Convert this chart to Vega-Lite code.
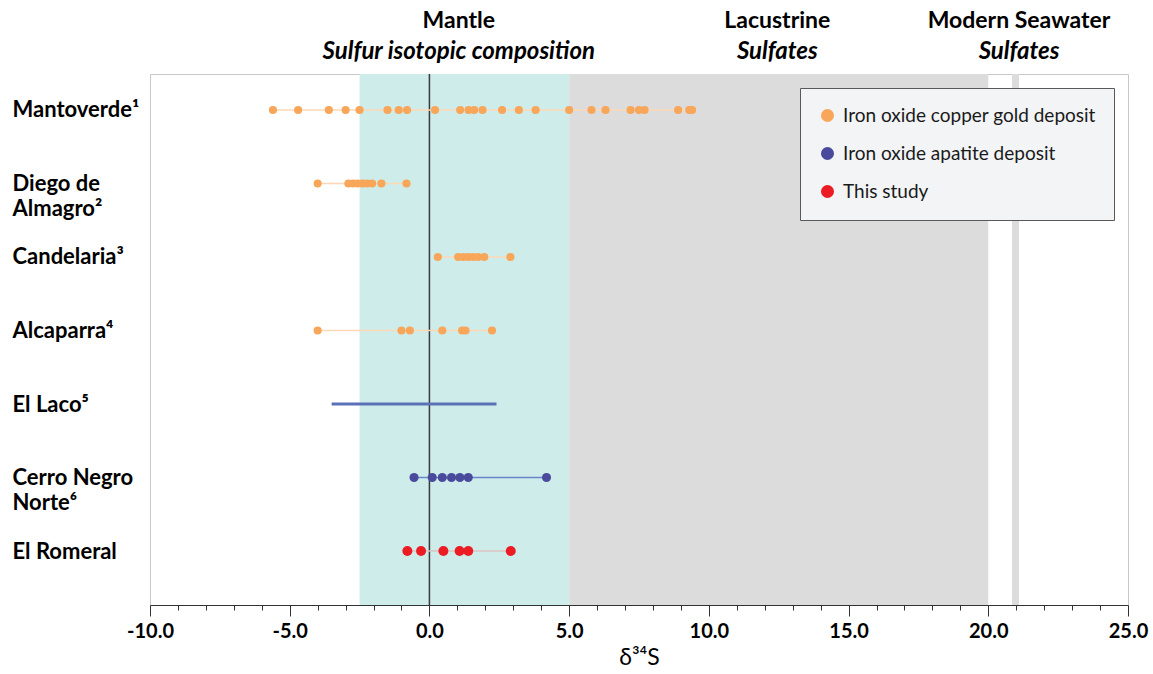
{
  "$schema": "https://vega.github.io/schema/vega-lite/v6.json",
  "padding": {"left": 11, "top": 5, "right": 5, "bottom": 0},
  "background": "white",
  "spacing": 5,
  "config": {"font": "Lato", "view": {"stroke": null}},
  "resolve": {"legend": {"color": "independent"}},
  "datasets": {
    "samples": [
      {"deposit": "Mantoverde¹", "group": "Iron oxide copper gold deposit", "kind": "point", "d34S": -5.6},
      {"deposit": "Mantoverde¹", "group": "Iron oxide copper gold deposit", "kind": "point", "d34S": -4.7},
      {"deposit": "Mantoverde¹", "group": "Iron oxide copper gold deposit", "kind": "point", "d34S": -3.6},
      {"deposit": "Mantoverde¹", "group": "Iron oxide copper gold deposit", "kind": "point", "d34S": -3.0},
      {"deposit": "Mantoverde¹", "group": "Iron oxide copper gold deposit", "kind": "point", "d34S": -2.5},
      {"deposit": "Mantoverde¹", "group": "Iron oxide copper gold deposit", "kind": "point", "d34S": -1.5},
      {"deposit": "Mantoverde¹", "group": "Iron oxide copper gold deposit", "kind": "point", "d34S": -1.1},
      {"deposit": "Mantoverde¹", "group": "Iron oxide copper gold deposit", "kind": "point", "d34S": -0.8},
      {"deposit": "Mantoverde¹", "group": "Iron oxide copper gold deposit", "kind": "point", "d34S": 0.2},
      {"deposit": "Mantoverde¹", "group": "Iron oxide copper gold deposit", "kind": "point", "d34S": 1.1},
      {"deposit": "Mantoverde¹", "group": "Iron oxide copper gold deposit", "kind": "point", "d34S": 1.4},
      {"deposit": "Mantoverde¹", "group": "Iron oxide copper gold deposit", "kind": "point", "d34S": 1.6},
      {"deposit": "Mantoverde¹", "group": "Iron oxide copper gold deposit", "kind": "point", "d34S": 1.9},
      {"deposit": "Mantoverde¹", "group": "Iron oxide copper gold deposit", "kind": "point", "d34S": 2.6},
      {"deposit": "Mantoverde¹", "group": "Iron oxide copper gold deposit", "kind": "point", "d34S": 3.2},
      {"deposit": "Mantoverde¹", "group": "Iron oxide copper gold deposit", "kind": "point", "d34S": 3.8},
      {"deposit": "Mantoverde¹", "group": "Iron oxide copper gold deposit", "kind": "point", "d34S": 5.0},
      {"deposit": "Mantoverde¹", "group": "Iron oxide copper gold deposit", "kind": "point", "d34S": 5.8},
      {"deposit": "Mantoverde¹", "group": "Iron oxide copper gold deposit", "kind": "point", "d34S": 6.3},
      {"deposit": "Mantoverde¹", "group": "Iron oxide copper gold deposit", "kind": "point", "d34S": 7.2},
      {"deposit": "Mantoverde¹", "group": "Iron oxide copper gold deposit", "kind": "point", "d34S": 7.5},
      {"deposit": "Mantoverde¹", "group": "Iron oxide copper gold deposit", "kind": "point", "d34S": 7.7},
      {"deposit": "Mantoverde¹", "group": "Iron oxide copper gold deposit", "kind": "point", "d34S": 8.9},
      {"deposit": "Mantoverde¹", "group": "Iron oxide copper gold deposit", "kind": "point", "d34S": 9.3},
      {"deposit": "Mantoverde¹", "group": "Iron oxide copper gold deposit", "kind": "point", "d34S": 9.4},
      {"deposit": "Diego de Almagro²", "group": "Iron oxide copper gold deposit", "kind": "point", "d34S": -4.0},
      {"deposit": "Diego de Almagro²", "group": "Iron oxide copper gold deposit", "kind": "point", "d34S": -2.9},
      {"deposit": "Diego de Almagro²", "group": "Iron oxide copper gold deposit", "kind": "point", "d34S": -2.73},
      {"deposit": "Diego de Almagro²", "group": "Iron oxide copper gold deposit", "kind": "point", "d34S": -2.57},
      {"deposit": "Diego de Almagro²", "group": "Iron oxide copper gold deposit", "kind": "point", "d34S": -2.4},
      {"deposit": "Diego de Almagro²", "group": "Iron oxide copper gold deposit", "kind": "point", "d34S": -2.23},
      {"deposit": "Diego de Almagro²", "group": "Iron oxide copper gold deposit", "kind": "point", "d34S": -2.05},
      {"deposit": "Diego de Almagro²", "group": "Iron oxide copper gold deposit", "kind": "point", "d34S": -1.72},
      {"deposit": "Diego de Almagro²", "group": "Iron oxide copper gold deposit", "kind": "point", "d34S": -0.82},
      {"deposit": "Candelaria³", "group": "Iron oxide copper gold deposit", "kind": "point", "d34S": 0.3},
      {"deposit": "Candelaria³", "group": "Iron oxide copper gold deposit", "kind": "point", "d34S": 1.03},
      {"deposit": "Candelaria³", "group": "Iron oxide copper gold deposit", "kind": "point", "d34S": 1.21},
      {"deposit": "Candelaria³", "group": "Iron oxide copper gold deposit", "kind": "point", "d34S": 1.39},
      {"deposit": "Candelaria³", "group": "Iron oxide copper gold deposit", "kind": "point", "d34S": 1.56},
      {"deposit": "Candelaria³", "group": "Iron oxide copper gold deposit", "kind": "point", "d34S": 1.74},
      {"deposit": "Candelaria³", "group": "Iron oxide copper gold deposit", "kind": "point", "d34S": 1.96},
      {"deposit": "Candelaria³", "group": "Iron oxide copper gold deposit", "kind": "point", "d34S": 2.9},
      {"deposit": "Alcaparra⁴", "group": "Iron oxide copper gold deposit", "kind": "point", "d34S": -4.0},
      {"deposit": "Alcaparra⁴", "group": "Iron oxide copper gold deposit", "kind": "point", "d34S": -1.0},
      {"deposit": "Alcaparra⁴", "group": "Iron oxide copper gold deposit", "kind": "point", "d34S": -0.7},
      {"deposit": "Alcaparra⁴", "group": "Iron oxide copper gold deposit", "kind": "point", "d34S": 0.46},
      {"deposit": "Alcaparra⁴", "group": "Iron oxide copper gold deposit", "kind": "point", "d34S": 1.17},
      {"deposit": "Alcaparra⁴", "group": "Iron oxide copper gold deposit", "kind": "point", "d34S": 1.29},
      {"deposit": "Alcaparra⁴", "group": "Iron oxide copper gold deposit", "kind": "point", "d34S": 2.24},
      {"deposit": "El Laco⁵", "group": "Iron oxide apatite deposit", "kind": "range", "d34S": -3.5},
      {"deposit": "El Laco⁵", "group": "Iron oxide apatite deposit", "kind": "range", "d34S": 2.4},
      {"deposit": "Cerro Negro Norte⁶", "group": "Iron oxide apatite deposit", "kind": "point", "d34S": -0.55},
      {"deposit": "Cerro Negro Norte⁶", "group": "Iron oxide apatite deposit", "kind": "point", "d34S": 0.1},
      {"deposit": "Cerro Negro Norte⁶", "group": "Iron oxide apatite deposit", "kind": "point", "d34S": 0.46},
      {"deposit": "Cerro Negro Norte⁶", "group": "Iron oxide apatite deposit", "kind": "point", "d34S": 0.79},
      {"deposit": "Cerro Negro Norte⁶", "group": "Iron oxide apatite deposit", "kind": "point", "d34S": 1.09},
      {"deposit": "Cerro Negro Norte⁶", "group": "Iron oxide apatite deposit", "kind": "point", "d34S": 1.39},
      {"deposit": "Cerro Negro Norte⁶", "group": "Iron oxide apatite deposit", "kind": "point", "d34S": 4.19},
      {"deposit": "El Romeral", "group": "This study", "kind": "point", "d34S": -0.79},
      {"deposit": "El Romeral", "group": "This study", "kind": "point", "d34S": -0.3},
      {"deposit": "El Romeral", "group": "This study", "kind": "point", "d34S": 0.5},
      {"deposit": "El Romeral", "group": "This study", "kind": "point", "d34S": 1.08},
      {"deposit": "El Romeral", "group": "This study", "kind": "point", "d34S": 1.39},
      {"deposit": "El Romeral", "group": "This study", "kind": "point", "d34S": 2.91}
    ],
    "bands": [
      {"band": "Mantle", "d34S": -2.5, "to": 5},
      {"band": "Lacustrine", "d34S": 5, "to": 20},
      {"band": "Seawater", "d34S": 20.85, "to": 21.1}
    ],
    "headers": [
      {"text": "Mantle", "line": "a", "x": 1.05},
      {"text": "Sulfur isotopic composition", "line": "b", "x": 1.05},
      {"text": "Lacustrine", "line": "a", "x": 12.45},
      {"text": "Sulfates", "line": "b", "x": 12.45},
      {"text": "Modern Seawater", "line": "a", "x": 21.1},
      {"text": "Sulfates", "line": "b", "x": 21.1}
    ]
  },
  "vconcat": [
    {
      "width": 978,
      "height": 62,
      "data": {"name": "headers"},
      "encoding": {
        "x": {"field": "x", "type": "quantitative", "scale": {"domain": [-10, 25], "nice": false, "zero": false}, "axis": null},
        "y": {"field": "line", "type": "nominal", "scale": {"type": "point", "domain": ["a", "b"], "padding": 0.5}, "axis": null},
        "text": {"field": "text"}
      },
      "layer": [
        {
          "transform": [{"filter": "datum.line === 'a'"}],
          "mark": {"type": "text", "font": "Lato", "fontWeight": "bold", "fontSize": 23, "color": "#000000", "baseline": "middle", "align": "center"}
        },
        {
          "transform": [{"filter": "datum.line === 'b'"}],
          "mark": {"type": "text", "font": "Lato", "fontWeight": "bold", "fontStyle": "italic", "fontSize": 24, "color": "#000000", "baseline": "middle", "align": "center"}
        }
      ]
    },
    {
      "width": 978,
      "height": 531,
      "view": {"stroke": "#c8c8c8", "strokeWidth": 1},
      "encoding": {
        "x": {"field": "d34S", "type": "quantitative", "scale": {"domain": [-10, 25], "nice": false, "zero": false},
          "axis": {
            "values": [-10,-9,-8,-7,-6,-5,-4,-3,-2,-1,0,1,2,3,4,5,6,7,8,9,10,11,12,13,14,15,16,17,18,19,20,21,22,23,24,25],
            "labelExpr": "datum.value % 5 === 0 ? (datum.value < 0 ? '-' : '') + format(abs(datum.value), '.1f') : ''",
            "tickSize": {"condition": {"test": "datum.value % 5 === 0", "value": 11}, "value": 5},
            "tickColor": "#333333",
            "domainColor": "#333333",
            "domainWidth": 1,
            "grid": false,
            "labelFont": "Lato",
            "labelFontWeight": "bold",
            "labelFontSize": 20,
            "labelColor": "#000000",
            "labelPadding": 5,
            "labelOverlap": false,
            "labelFlush": false,
            "title": "δ³⁴S",
            "titleFont": "Lato",
            "titleFontWeight": "normal",
            "titleFontSize": 23,
            "titleColor": "#000000",
            "titlePadding": 5
          }
        },
        "y": {"field": "deposit", "type": "nominal",
          "scale": {"type": "point", "domain": ["Mantoverde¹", "Diego de Almagro²", "Candelaria³", "Alcaparra⁴", "El Laco⁵", "Cerro Negro Norte⁶", "El Romeral"], "padding": 0.612, "align": 0.4},
          "axis": {
            "title": null,
            "domain": false,
            "ticks": false,
            "tickSize": 0,
            "labelAlign": "left",
            "labelBaseline": "middle",
            "labelPadding": 138,
            "labelFont": "Lato",
            "labelFontWeight": "bold",
            "labelFontSize": 22,
            "labelLineHeight": 25,
            "labelColor": "#000000",
            "labelExpr": "datum.label === 'Diego de Almagro²' ? ['Diego de', 'Almagro²'] : datum.label === 'Cerro Negro Norte⁶' ? ['Cerro Negro', 'Norte⁶'] : datum.label"
          }
        }
      },
      "layer": [
        {
          "data": {"name": "bands"},
          "transform": [{"filter": "datum.band === 'Mantle'"}],
          "mark": {"type": "rect", "color": "#ceecea"},
          "encoding": {"y": null, "x2": {"field": "to"}}
        },
        {
          "data": {"name": "bands"},
          "transform": [{"filter": "datum.band !== 'Mantle'"}],
          "mark": {"type": "rect", "color": "#dcdcdc"},
          "encoding": {"y": null, "x2": {"field": "to"}}
        },
        {
          "data": {"values": [{"d34S": 0}]},
          "mark": {"type": "rule", "color": "#3a3a3a", "strokeWidth": 1.5},
          "encoding": {"y": null}
        },
        {
          "data": {"name": "samples"},
          "transform": [{"filter": "datum.group === 'Iron oxide copper gold deposit'"}],
          "mark": {"type": "line", "color": "#fcd8b4", "strokeWidth": 1.5},
          "encoding": {"detail": {"field": "deposit"}}
        },
        {
          "data": {"name": "samples"},
          "transform": [{"filter": "datum.group === 'Iron oxide apatite deposit' && datum.kind === 'point'"}],
          "mark": {"type": "line", "color": "#6a86c9", "strokeWidth": 1.5},
          "encoding": {"detail": {"field": "deposit"}}
        },
        {
          "data": {"name": "samples"},
          "transform": [{"filter": "datum.kind === 'range'"}],
          "mark": {"type": "line", "color": "#5871b7", "strokeWidth": 3.2},
          "encoding": {"detail": {"field": "deposit"}}
        },
        {
          "data": {"name": "samples"},
          "transform": [{"filter": "datum.group === 'This study'"}],
          "mark": {"type": "line", "color": "#dcc5c0", "strokeWidth": 1.5},
          "encoding": {"detail": {"field": "deposit"}}
        },
        {
          "data": {"name": "samples"},
          "transform": [{"filter": "datum.kind === 'point'"}],
          "mark": {"type": "circle", "opacity": 1},
          "encoding": {
            "color": {"field": "group", "type": "nominal",
              "scale": {"domain": ["Iron oxide copper gold deposit", "Iron oxide apatite deposit", "This study"], "range": ["#f7a65a", "#4a4a9c", "#ec1c24"]},
              "legend": {
                "title": null,
                "orient": "top-right",
                "offset": 14,
                "fillColor": "#f3f4f6",
                "strokeColor": "#595959",
                "padding": 18,
                "rowPadding": 18,
                "symbolType": "circle",
                "symbolSize": 170,
                "symbolStrokeWidth": 0,
                "labelFont": "Lato",
                "labelFontSize": 19,
                "labelColor": "#1a1a1a",
                "labelOffset": 6,
                "labelLimit": 400
              }
            },
            "size": {"field": "group", "type": "nominal",
              "scale": {"domain": ["Iron oxide copper gold deposit", "Iron oxide apatite deposit", "This study"], "range": [66, 100, 85]},
              "legend": null}
          }
        }
      ]
    }
  ]
}
